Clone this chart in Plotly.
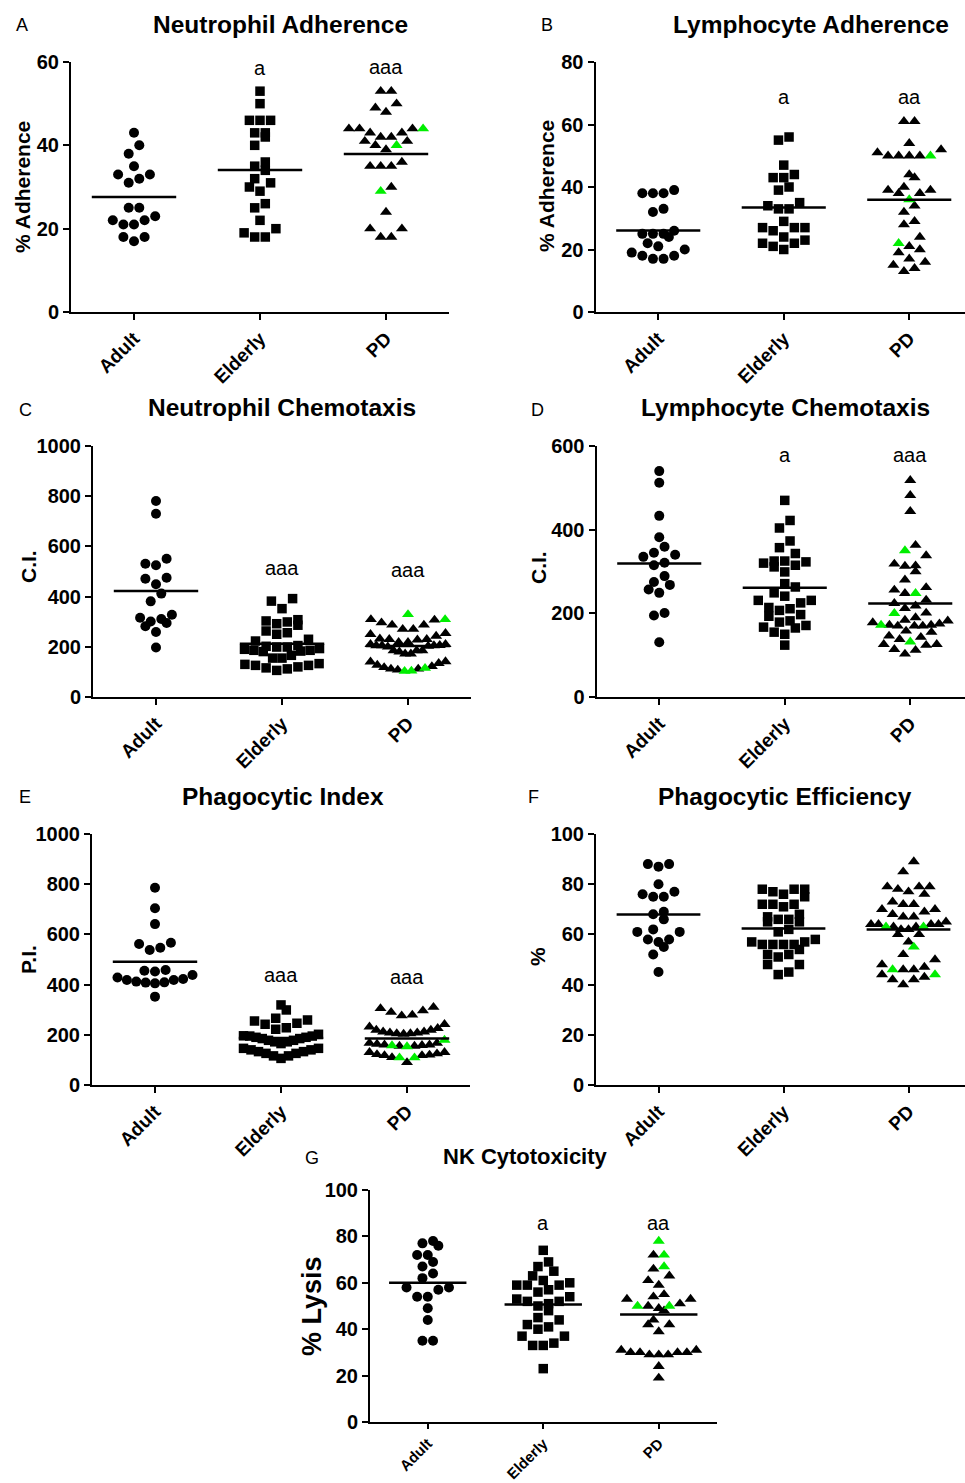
import numpy as np
import plotly.graph_objects as go

W, H = 965, 1483
FONT = "Liberation Sans"
GREEN = "#00ee00"

groups = ["Adult", "Elderly", "PD"]

# ---------------- data ----------------
# A  Neutrophil Adherence (% Adherence)
a_adult = [43, 40, 38, 35, 33, 33, 32, 31, 25, 25, 23, 22, 22, 21, 21, 18, 18, 17]
a_elderly = [53, 50, 46, 46, 46, 43, 43, 42, 40, 36, 35, 34, 32, 31, 30, 29, 26, 25, 22, 20, 19, 18, 18]
a_pd = [53, 53, 50, 49, 48, 44, 44, 44, 43, 43, 42, 42, 41, 41, 40, 39, 36, 35, 35, 35, 30, 24, 20, 20, 18, 18]
a_pd_green = [44, 40, 29]

# B  Lymphocyte Adherence (% Adherence)
b_adult = [39, 38, 38, 38, 33, 32, 26, 25, 25, 25, 24, 22, 21, 20, 19, 18, 18, 17, 17]
b_elderly = [56, 55, 47, 44, 43, 43, 40, 39, 35, 34, 33, 33, 29, 27, 27, 27, 26, 24, 23, 22, 22, 21, 20]
b_pd = [61, 61, 54, 52, 51, 50, 50, 50, 50, 44, 43, 40, 39, 39, 38, 38, 34, 32, 29, 28, 24, 21, 20, 19, 17, 16, 15, 14, 13]
b_pd_green = [50, 36, 22]

# C  Neutrophil Chemotaxis (C.I.)
c_adult = [781, 730, 551, 531, 525, 475, 471, 449, 412, 381, 328, 316, 311, 301, 295, 282, 259, 197]
c_elderly = [392, 382, 352, 308, 303, 299, 292, 286, 263, 256, 250, 230, 223, 205, 202, 199, 199, 193, 190,
             186, 186, 183, 181, 166, 155, 155, 133, 130, 126, 126, 120, 116, 112, 106]
c_pd = [309, 307, 296, 287, 287, 270, 270, 254, 250, 243, 230, 228, 218, 218, 230, 232, 205, 200, 203, 210,
        206, 210, 205, 205, 185, 185, 172, 172, 180, 185, 141, 140, 134, 127, 118, 112, 108, 112, 122]
c_pd_green = [329, 309, 103, 104, 115]

# D  Lymphocyte Chemotaxis (C.I.)
d_adult = [540, 512, 433, 382, 359, 345, 340, 335, 321, 315, 289, 275, 268, 257, 249, 201, 195, 131]
d_elderly = [470, 422, 404, 373, 357, 343, 325, 325, 323, 320, 315, 311, 299, 271, 263, 249, 241, 231, 231,
             225, 214, 211, 207, 197, 193, 182, 179, 171, 167, 165, 155, 150, 124]
d_pd = [518, 482, 444, 363, 338, 318, 314, 313, 300, 280, 262, 256, 248, 232, 224, 218, 212, 201, 190, 184,
        182, 175, 170, 170, 170, 172, 172, 178, 158, 155, 146, 143, 138, 126, 126, 124, 114, 112, 103]
d_pd_green = [350, 248, 200, 172, 132]

# E  Phagocytic Index (P.I.)
e_adult = [786, 704, 641, 567, 562, 547, 538, 458, 455, 452, 438, 428, 422, 418, 418, 412, 409, 408, 405, 352]
e_elderly = [319, 299, 266, 259, 255, 246, 242, 228, 222, 202, 196, 195, 190, 185, 178, 172, 165, 172, 178,
             185, 190, 195, 146, 140, 133, 126, 116, 106, 116, 126, 133, 140, 146]
e_pd = [310, 305, 296, 290, 279, 276, 242, 232, 226, 219, 212, 208, 205, 203, 205, 208, 212, 219, 167, 160,
        155, 155, 158, 160, 163, 167, 130, 125, 118, 120, 110, 118, 122, 130, 90]
e_pd_green = [179, 157, 153, 109, 109]

# F  Phagocytic Efficiency (%)
f_adult = [88, 87, 88, 80, 77, 76, 75, 75, 69, 68, 66, 62, 61, 61, 58, 58, 57, 55, 52, 45]
f_elderly = [78, 78, 78, 77, 76, 75, 72, 72, 72, 71, 68, 67, 66, 66, 65, 65, 62, 61, 58, 57, 57, 56, 56, 56,
             56, 54, 52, 52, 51, 48, 48, 45, 44]
f_pd = [89, 85, 79, 79, 79, 78, 77, 76, 73, 72, 72, 70, 70, 69, 68, 67, 67, 65, 64, 64, 64, 64, 63, 63, 62,
        62, 60, 60, 57, 52, 50, 48, 47, 46, 46, 44, 43, 42, 42, 40]
f_pd_green = [63, 63, 55, 46, 44]

# G  NK Cytotoxicity (% Lysis)
g_adult = [78, 77, 76, 72, 72, 69, 67, 64, 62, 58, 58, 57, 54, 54, 49, 44, 35, 35]
g_elderly = [74, 69, 67, 65, 63, 61, 60, 59, 59, 59, 57, 56, 54, 53, 52, 52, 51, 50, 48, 45, 44, 42, 41,
             40, 37, 37, 34, 33, 33, 23]
g_pd = [72, 66, 63, 61, 59, 55, 54, 53, 53, 51, 50, 49, 48, 44, 42, 42, 39, 31, 31, 30, 30, 30, 30, 29, 29,
        29, 24, 19]
g_pd_green = [78, 72, 67, 50, 50]

titles = ["Neutrophil Adherence", "Lymphocyte Adherence", "Neutrophil Chemotaxis",
          "Lymphocyte Chemotaxis", "Phagocytic Index", "Phagocytic Efficiency", "NK Cytotoxicity"]
letters = ["A", "B", "C", "D", "E", "F", "G"]
ytitles = ["% Adherence", "% Adherence", "C.I.", "C.I.", "P.I.", "%", "% Lysis"]
sig_labels = [["", "a", "aaa"], ["", "a", "aa"], ["", "aaa", "aaa"], ["", "a", "aaa"],
              ["", "aaa", "aaa"], ["", "", ""], ["", "a", "aa"]]
sig_values = [[0, 58.6, 58.8], [0, 68.8, 68.8], [0, 514, 506], [0, 578, 578],
              [0, 438, 430], [0, 0, 0], [0, 85.8, 85.8]]
ymax = [60, 80, 1000, 600, 1000, 100, 100]
ydtick = [20, 20, 200, 200, 200, 20, 20]

data = [
    (a_adult, a_elderly, a_pd, a_pd_green),
    (b_adult, b_elderly, b_pd, b_pd_green),
    (c_adult, c_elderly, c_pd, c_pd_green),
    (d_adult, d_elderly, d_pd, d_pd_green),
    (e_adult, e_elderly, e_pd, e_pd_green),
    (f_adult, f_elderly, f_pd, f_pd_green),
    (g_adult, g_elderly, g_pd, g_pd_green),
]

# ---------------- layout geometry (pixels) ----------------
# x of y-axis, category spacing, top and bottom of plot area
boxes = [
    (71, 126.0, 62, 312),
    (595.5, 125.5, 62, 312),
    (93, 126.0, 446, 697),
    (596.5, 125.5, 446, 697),
    (92, 126.0, 834, 1085),
    (596, 125.0, 834, 1085),
    (370, 115.5, 1190, 1422),
]
title_pos = [(280, 24), (811, 24), (282, 408), (785, 408), (283, 796), (785, 796), (525, 1156)]
title_size = [24.5, 24.5, 24.5, 24.5, 24.5, 24.5, 22]
letter_pos = [(22, 25), (547, 25), (25, 410), (537, 410), (25, 797), (533, 797), (312, 1158)]
ytitle_pos = [(22, 187), (547, 186), (28, 567), (538, 568), (28, 960), (537, 957), (312, 1306)]
ytitle_size = [21, 21, 21, 21, 21, 21, 27]
xtick_size = [19, 19, 19, 19, 19, 19, 15]
xtick_len = [6, 6, 6, 6, 6, 6, 5]


def prism_rows(values, ppu_y, d=10.6, h_px=10.5, maxw=75.0):
    """Column-scatter layout: values grouped into rows one symbol high,
    each row spread horizontally around the column centre."""
    vals = np.asarray(values, float)
    ypx = vals * ppu_y
    order = np.argsort(vals, kind="stable")
    rows, cur, start = [], [], None
    for i in order:
        if start is None or ypx[i] - start >= h_px:
            if cur:
                rows.append(cur)
            cur, start = [i], ypx[i]
        else:
            cur.append(i)
    if cur:
        rows.append(cur)
    xs = np.zeros(len(vals))
    for row in rows:
        n = len(row)
        s = d if n <= 1 else min(d, maxw / (n - 1))
        slots = sorted([(j - (n - 1) / 2) * s for j in range(n)], key=lambda c: (abs(c), c))
        for i, c in zip(row, slots):
            xs[i] = c
    return xs


fig = go.Figure()
symbols = ["circle", "square", "triangle-up"]
sizes = [10, 9.5, 10.5]
annotations = []
layout_axes = {}

for k in range(7):
    x0, sp, ytop, ybot = boxes[k]
    x1 = min(x0 + 3 * sp, W)
    xend = -0.5 + (x1 - x0) / sp
    ppu_y = (ybot - ytop) / ymax[k]
    xa = "x" if k == 0 else f"x{k+1}"
    ya = "y" if k == 0 else f"y{k+1}"
    adult, elderly, pd_black, pd_green = data[k]
    sets = [(adult, []), (elderly, []), (pd_black, pd_green)]
    for gi, (blk, grn) in enumerate(sets):
        vals = list(blk) + list(grn)
        offs = prism_rows(vals, ppu_y)
        xs = gi + offs / sp
        colors = ["black"] * len(blk) + [GREEN] * len(grn)
        fig.add_trace(go.Scatter(
            x=xs, y=vals, mode="markers", xaxis=xa, yaxis=ya, showlegend=False,
            marker=dict(symbol=symbols[gi], size=sizes[gi], color=colors, line=dict(width=0)),
            cliponaxis=False, hoverinfo="y"))
        m = float(np.mean(vals))
        fig.add_trace(go.Scatter(
            x=[gi - 0.335, gi + 0.335], y=[m, m], mode="lines", xaxis=xa, yaxis=ya,
            showlegend=False, line=dict(color="black", width=2.5), hoverinfo="skip"))
        if sig_labels[k][gi]:
            annotations.append(dict(
                x=gi, y=sig_values[k][gi], xref=xa, yref=ya, text=sig_labels[k][gi],
                showarrow=False, font=dict(family=FONT, size=20, color="black"),
                xanchor="center", yanchor="middle"))

    axkey = "xaxis" if k == 0 else f"xaxis{k+1}"
    aykey = "yaxis" if k == 0 else f"yaxis{k+1}"
    layout_axes[axkey] = dict(
        domain=[x0 / W, x1 / W], range=[-0.5, xend], anchor=ya, automargin=False,
        tickmode="array", tickvals=[0, 1, 2], ticktext=groups, tickangle=-45,
        showline=True, linecolor="black", linewidth=2, ticks="outside", tickwidth=2,
        ticklen=xtick_len[k], tickcolor="black", showgrid=False, zeroline=False,
        tickfont=dict(family=FONT, size=xtick_size[k], color="black", weight="bold"))
    layout_axes[aykey] = dict(
        domain=[1 - ybot / H, 1 - ytop / H], range=[0, ymax[k]], anchor=xa, automargin=False,
        tickmode="linear", tick0=0, dtick=ydtick[k],
        showline=True, linecolor="black", linewidth=2, ticks="outside", tickwidth=2,
        ticklen=6, tickcolor="black", showgrid=False, zeroline=False,
        tickfont=dict(family=FONT, size=20, color="black", weight="bold"))

    tx, ty = title_pos[k]
    annotations.append(dict(x=tx / W, y=1 - ty / H, xref="paper", yref="paper", text=titles[k],
                            showarrow=False, xanchor="center", yanchor="middle",
                            font=dict(family=FONT, size=title_size[k], color="black", weight="bold")))
    lx, ly = letter_pos[k]
    annotations.append(dict(x=lx / W, y=1 - ly / H, xref="paper", yref="paper", text=letters[k],
                            showarrow=False, xanchor="center", yanchor="middle",
                            font=dict(family=FONT, size=18, color="black")))
    yx, yy = ytitle_pos[k]
    annotations.append(dict(x=yx / W, y=1 - yy / H, xref="paper", yref="paper", text=ytitles[k],
                            showarrow=False, xanchor="center", yanchor="middle", textangle=-90,
                            font=dict(family=FONT, size=ytitle_size[k], color="black", weight="bold")))

fig.update_layout(
    width=W, height=H, margin=dict(l=0, r=0, t=0, b=0, autoexpand=False),
    paper_bgcolor="white", plot_bgcolor="white", hovermode=False,
    annotations=annotations, **layout_axes)

fig.write_html("out.html", config={"displayModeBar": False, "staticPlot": True},
               post_script="document.body.style.margin='0px';document.body.style.overflow='hidden';")
